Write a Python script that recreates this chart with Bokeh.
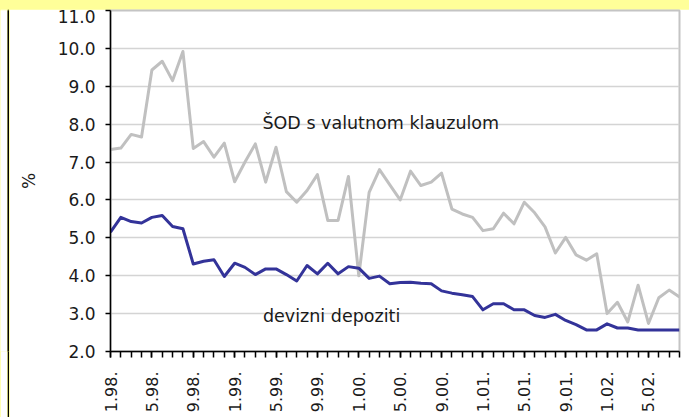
from bokeh.plotting import figure
from bokeh.models import Range1d, FixedTicker, PrintfTickFormatter, Label, ColumnDataSource, Div
from bokeh.layouts import column, row
from bokeh.embed import file_html
from bokeh.resources import INLINE

# month index 0 = 1.98. ... 55 = 8.02.
tick_labels = ["1.98.", "5.98.", "9.98.", "1.99.", "5.99.", "9.99.", "1.00.",
               "5.00.", "9.00.", "1.01.", "5.01.", "9.01.", "1.02.", "5.02."]

sod = [7.33, 7.37, 7.73, 7.66, 9.43, 9.66, 9.15, 9.92, 7.36, 7.54,
       7.13, 7.50, 6.48, 7.00, 7.48, 6.47, 7.39, 6.22, 5.94, 6.25,
       6.67, 5.46, 5.46, 6.62, 4.00, 6.20, 6.80, 6.40, 6.00, 6.76,
       6.38, 6.47, 6.71, 5.76, 5.63, 5.54, 5.19, 5.24, 5.65, 5.37,
       5.94, 5.66, 5.29, 4.60, 5.01, 4.55, 4.41, 4.58, 3.00, 3.30,
       2.78, 3.75, 2.74, 3.42, 3.62, 3.44]

devizni = [5.15, 5.54, 5.43, 5.39, 5.54, 5.59, 5.30, 5.24, 4.31, 4.38,
           4.42, 3.98, 4.33, 4.22, 4.03, 4.18, 4.18, 4.03, 3.86, 4.27,
           4.05, 4.33, 4.05, 4.24, 4.20, 3.93, 3.99, 3.79, 3.82, 3.83,
           3.80, 3.79, 3.60, 3.54, 3.50, 3.45, 3.10, 3.26, 3.26, 3.10,
           3.10, 2.95, 2.90, 2.98, 2.82, 2.71, 2.57, 2.57, 2.73, 2.62,
           2.62, 2.57, 2.57, 2.57, 2.57, 2.57]

y_ticks = [2, 3, 4, 5, 6, 7, 8, 9, 10, 11]

months = list(range(len(sod)))
label_pos = months[::4][:len(tick_labels)]

FONT = "DejaVu Sans"
TXT = "#1a1a1a"
YELLOW = "#FFFF99"


def bar_fig(w, h, color):
    f = figure(width=w, height=h, output_backend="svg", toolbar_location=None,
               x_axis_type=None, y_axis_type=None, min_border=0, title=None)
    f.outline_line_color = None
    f.background_fill_color = color
    f.border_fill_color = color
    f.grid.visible = False
    return f


p = figure(width=680, height=408, output_backend="svg", toolbar_location=None,
           x_range=Range1d(0, len(sod) - 1), y_range=Range1d(2, 11),
           min_border_left=101, min_border_right=10, min_border_top=1,
           min_border_bottom=66)
p.background_fill_color = "white"
p.border_fill_color = "white"
p.outline_line_color = "#C4C4C4"
p.outline_line_width = 2

src = ColumnDataSource(dict(x=months, sod=sod, dev=devizni))
p.line("x", "sod", source=src, line_color="#C0C0C0", line_width=3, line_join="round")
p.line("x", "dev", source=src, line_color="#333399", line_width=3, line_join="round")

# y axis
p.yaxis.ticker = FixedTicker(ticks=y_ticks)
p.yaxis.formatter = PrintfTickFormatter(format="%.1f")
p.yaxis.major_label_text_font = FONT
p.yaxis.major_label_text_font_size = "17px"
p.yaxis.major_label_text_color = TXT
p.yaxis.major_tick_in = 0
p.yaxis.major_tick_out = 5
p.yaxis.minor_tick_line_color = None
p.yaxis.axis_line_color = "black"
p.yaxis.axis_line_width = 1.5
p.yaxis.major_tick_line_width = 1.5
p.yaxis.major_label_standoff = 10
p.yaxis.axis_label = "%"
p.yaxis.axis_label_text_font = FONT
p.yaxis.axis_label_text_font_size = "17px"
p.yaxis.axis_label_text_font_style = "normal"
p.yaxis.axis_label_text_color = TXT
p.yaxis.axis_label_standoff = 16

# x axis
p.xaxis.ticker = FixedTicker(ticks=label_pos, minor_ticks=months)
p.xaxis.major_label_overrides = {pos: lab for pos, lab in zip(label_pos, tick_labels)}
p.xaxis.major_label_orientation = 3.14159265 / 2
p.xaxis.major_label_text_font = FONT
p.xaxis.major_label_text_font_size = "16px"
p.xaxis.major_label_text_color = TXT
p.xaxis.major_tick_in = 0
p.xaxis.major_tick_out = 6
p.xaxis.minor_tick_in = 0
p.xaxis.minor_tick_out = 6
p.xaxis.minor_tick_line_color = "black"
p.xaxis.minor_tick_line_width = 1.5
p.xaxis.major_tick_line_width = 1.5
p.xaxis.axis_line_color = "black"
p.xaxis.axis_line_width = 1.5
p.xaxis.major_label_standoff = 14

p.xgrid.visible = False
p.ygrid.grid_line_color = "#D4D4D4"
p.ygrid.grid_line_width = 1.5

p.add_layout(Label(x=14.69, y=8.03, text="ŠOD s valutnom klauzulom",
                   text_font=FONT, text_font_size="17.5px", text_color=TXT,
                   text_baseline="alphabetic"))
p.add_layout(Label(x=14.74, y=2.93, text="devizni depoziti",
                   text_font=FONT, text_font_size="17.5px", text_color=TXT,
                   text_baseline="alphabetic"))

yellow = Div(text='<div style="width:689px;height:9px;background-color:#FFFF99;margin:0;padding:0"></div>',
             width=689, height=9, margin=0, styles={"background-color": YELLOW})
white = bar_fig(7, 408, "#FFFFFF")
black = bar_fig(2, 408, "#000000")
layout = column(yellow, row(white, black, p, spacing=0), spacing=0,
                styles={"background-color": YELLOW})

open("out.html", "w").write(file_html(layout, INLINE))
